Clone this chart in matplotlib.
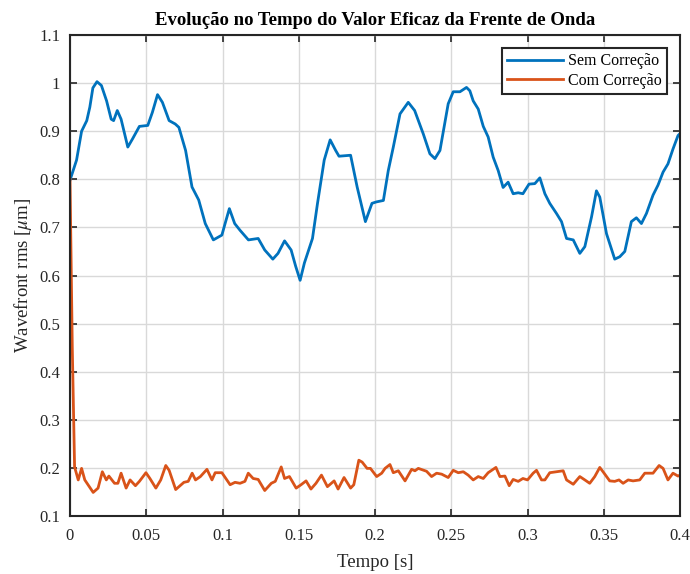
import matplotlib
matplotlib.use("Agg")
import matplotlib.pyplot as plt

plt.rcParams['font.family'] = ['Liberation Serif', 'DejaVu Serif']
plt.rcParams['mathtext.fontset'] = 'stix'

# Sem Correção (blue)
t_sem = [0.0, 0.0043, 0.0076, 0.011, 0.013, 0.015, 0.0177, 0.0206, 0.024, 0.027,
         0.0286, 0.031, 0.0335, 0.0379, 0.041, 0.0455, 0.051, 0.054, 0.0574, 0.0606,
         0.065, 0.069, 0.0714, 0.0758, 0.080, 0.0844, 0.0887, 0.094, 0.0996, 0.1017,
         0.1045, 0.108, 0.1115, 0.117, 0.1234, 0.1277, 0.133, 0.1364, 0.1407, 0.145,
         0.148, 0.1509, 0.1537, 0.159, 0.1623, 0.1667, 0.1706, 0.1742, 0.1764, 0.184,
         0.1883, 0.1937, 0.198, 0.2009, 0.2055, 0.2087, 0.212, 0.2164, 0.2218, 0.226,
         0.2317, 0.236, 0.2393, 0.2426, 0.248, 0.2513, 0.2557, 0.26, 0.2622, 0.2644,
         0.2677, 0.271, 0.2742, 0.2775, 0.2808, 0.284, 0.2873, 0.2906, 0.2939, 0.297,
         0.301, 0.3048, 0.3081, 0.3114, 0.3146, 0.319, 0.3223, 0.3256, 0.33, 0.3343,
         0.3376, 0.342, 0.3452, 0.3474, 0.3518, 0.3572, 0.3605, 0.3638, 0.3681, 0.3714,
         0.3747, 0.378, 0.3823, 0.3856, 0.3889, 0.3921, 0.3954, 0.3987, 0.4]
v_sem = [0.798, 0.84, 0.90, 0.922, 0.95, 0.99, 1.003, 0.995, 0.963, 0.925,
         0.922, 0.943, 0.925, 0.867, 0.884, 0.91, 0.912, 0.939, 0.976, 0.96,
         0.922, 0.915, 0.908, 0.86, 0.784, 0.757, 0.708, 0.674, 0.684, 0.708,
         0.739, 0.708, 0.694, 0.674, 0.677, 0.653, 0.634, 0.646, 0.672, 0.653,
         0.619, 0.59, 0.626, 0.677, 0.75, 0.84, 0.882, 0.86, 0.848, 0.85,
         0.784, 0.712, 0.75, 0.753, 0.756, 0.818, 0.867, 0.936, 0.96, 0.943,
         0.894, 0.853, 0.843, 0.86, 0.957, 0.982, 0.982, 0.991, 0.984, 0.963,
         0.946, 0.91, 0.888, 0.846, 0.818, 0.783, 0.794, 0.77, 0.772, 0.77,
         0.79, 0.791, 0.803, 0.77, 0.75, 0.729, 0.712, 0.677, 0.674, 0.646,
         0.66, 0.722, 0.776, 0.763, 0.687, 0.634, 0.639, 0.65, 0.712, 0.72,
         0.708, 0.729, 0.767, 0.788, 0.815, 0.832, 0.863, 0.891, 0.895]

# Com Correção (orange)
t_com = [0.0, 0.0015, 0.003, 0.0054, 0.0076, 0.0097, 0.0152, 0.0184, 0.0212, 0.0238,
         0.0255, 0.0292, 0.0314, 0.0335, 0.0368, 0.0394, 0.0429, 0.0455, 0.0498, 0.0524,
         0.0563, 0.0595, 0.0628, 0.065, 0.0693, 0.0747, 0.0775, 0.0801, 0.0823, 0.0855,
         0.0898, 0.0931, 0.0952, 0.0996, 0.105, 0.1082, 0.1115, 0.1147, 0.1169, 0.1201,
         0.1234, 0.1277, 0.132, 0.1346, 0.1385, 0.1407, 0.1439, 0.1483, 0.1515, 0.1548,
         0.158, 0.1613, 0.1649, 0.1688, 0.1732, 0.1758, 0.1797, 0.184, 0.1861, 0.1894,
         0.1916, 0.1948, 0.197, 0.2011, 0.2044, 0.2066, 0.2098, 0.212, 0.2153, 0.2197,
         0.224, 0.2262, 0.2284, 0.2338, 0.2371, 0.2404, 0.2437, 0.248, 0.2513, 0.2546,
         0.2579, 0.2611, 0.2644, 0.2677, 0.271, 0.2742, 0.2793, 0.2819, 0.2852, 0.288,
         0.2906, 0.2939, 0.297, 0.3, 0.3037, 0.3059, 0.3092, 0.3114, 0.3146, 0.319,
         0.3234, 0.3256, 0.33, 0.3343, 0.3376, 0.3408, 0.3441, 0.3474, 0.35, 0.3539,
         0.3572, 0.36, 0.3627, 0.366, 0.3692, 0.3736, 0.3769, 0.3823, 0.3863, 0.3889,
         0.3921, 0.3954, 0.3987, 0.4]
v_com = [0.80, 0.45, 0.202, 0.175, 0.199, 0.175, 0.149, 0.158, 0.192, 0.175,
         0.183, 0.168, 0.168, 0.189, 0.158, 0.175, 0.163, 0.172, 0.19, 0.178,
         0.158, 0.175, 0.205, 0.195, 0.155, 0.17, 0.172, 0.189, 0.175, 0.182,
         0.197, 0.175, 0.19, 0.19, 0.165, 0.17, 0.168, 0.172, 0.189, 0.178,
         0.176, 0.153, 0.168, 0.172, 0.202, 0.178, 0.182, 0.158, 0.165, 0.173,
         0.156, 0.168, 0.185, 0.161, 0.173, 0.156, 0.18, 0.158, 0.165, 0.216,
         0.212, 0.199, 0.199, 0.182, 0.189, 0.199, 0.207, 0.19, 0.194, 0.173,
         0.197, 0.194, 0.199, 0.193, 0.182, 0.189, 0.187, 0.18, 0.195, 0.19,
         0.192, 0.185, 0.175, 0.182, 0.178, 0.19, 0.201, 0.182, 0.183, 0.163,
         0.176, 0.172, 0.178, 0.175, 0.189, 0.195, 0.175, 0.175, 0.19, 0.192,
         0.194, 0.175, 0.166, 0.182, 0.175, 0.168, 0.182, 0.201, 0.19, 0.173,
         0.172, 0.175, 0.168, 0.175, 0.173, 0.175, 0.189, 0.189, 0.205, 0.199,
         0.175, 0.189, 0.183, 0.185]

xticks = [0, 0.05, 0.1, 0.15, 0.2, 0.25, 0.3, 0.35, 0.4]
xticklabels = ['0', '0.05', '0.1', '0.15', '0.2', '0.25', '0.3', '0.35', '0.4']
yticks = [0.1, 0.2, 0.3, 0.4, 0.5, 0.6, 0.7, 0.8, 0.9, 1.0, 1.1]
yticklabels = ['0.1', '0.2', '0.3', '0.4', '0.5', '0.6', '0.7', '0.8', '0.9', '1', '1.1']

fig = plt.figure(figsize=(6.9, 5.74), dpi=100)
ax = fig.add_axes([70/690, 1-516/574, 610/690, 481/574])

ax.plot(t_sem, v_sem, color='#0072BD', lw=2.0, label='Sem Correção')
ax.plot(t_com, v_com, color='#D95319', lw=2.0, label='Com Correção')

ax.set_xlim(0, 0.4)
ax.set_ylim(0.1, 1.1)
ax.set_xticks(xticks)
ax.set_xticklabels(xticklabels)
ax.set_yticks(yticks)
ax.set_yticklabels(yticklabels)
ax.tick_params(direction='in', top=True, right=True, labelsize=12,
               length=5, width=1.2, color='#262626', labelcolor='#262626')
ax.tick_params(axis='x', pad=9)
ax.tick_params(axis='y', pad=7)
for s in ax.spines.values():
    s.set_linewidth(1.5)
    s.set_color('#262626')
ax.grid(True, color='#d9d9d9', lw=1.0)
ax.set_axisbelow(True)

ax.set_xlabel('Tempo [s]', fontsize=13.5, color='#262626', labelpad=7)
ax.set_ylabel(r'Wavefront rms [$\mu$m]', fontsize=13.5, color='#262626', labelpad=4)
ax.set_title('Evolução no Tempo do Valor Eficaz da Frente de Onda',
             fontsize=13.5, fontweight='bold', pad=7)

leg = ax.legend(loc='upper right', fontsize=11.5, frameon=True, fancybox=False,
                edgecolor='#262626', framealpha=1, handlelength=3.5,
                borderaxespad=0.8, borderpad=0.35, labelspacing=0.2, handletextpad=0.3)
leg.get_frame().set_linewidth(1.5)

fig.savefig('out.png', dpi=100)
